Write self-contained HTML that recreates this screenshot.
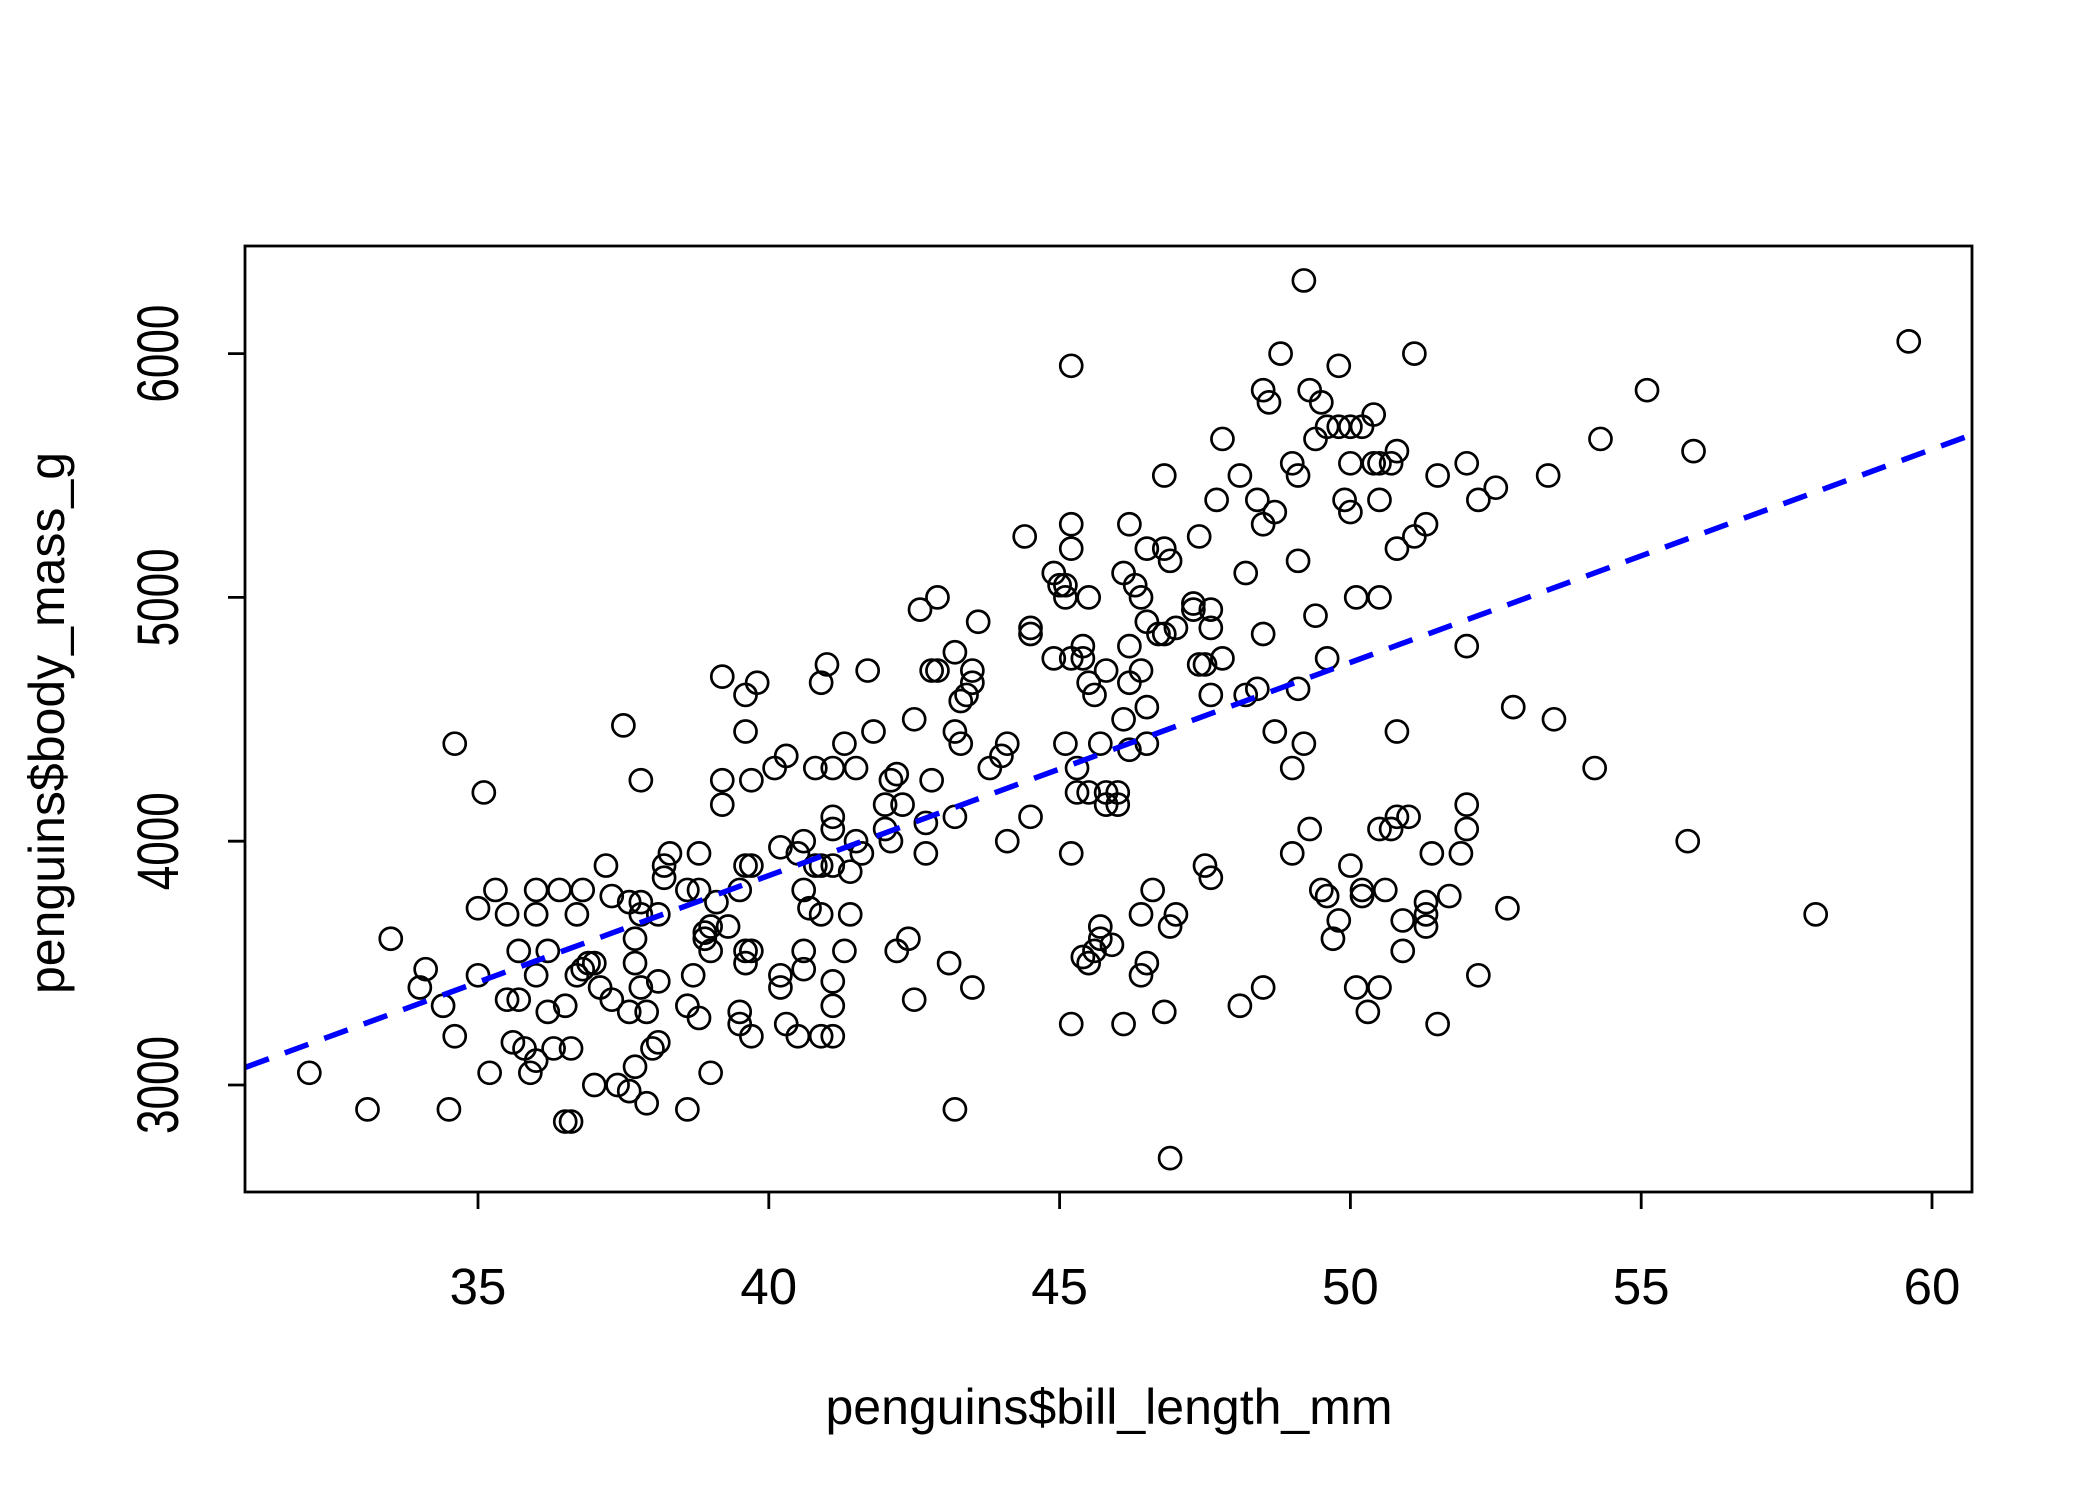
<!DOCTYPE html>
<html><head><meta charset="utf-8"><style>
html,body{margin:0;padding:0;background:#fff}
svg{display:block}
text{font-family:"Liberation Sans",sans-serif;fill:#000}
</style></head><body>
<svg id="chart" width="2100" height="1500" viewBox="0 0 2100 1500">
<rect x="0" y="0" width="2100" height="1500" fill="#fff"/>
<g id="pts"></g>
<g id="fit"></g>
<rect x="245" y="246" width="1727" height="946" fill="none" stroke="#000" stroke-width="2.8"/>
<g id="axes"></g>
<text x="1109" y="1424" font-size="50" text-anchor="middle">penguins$bill_length_mm</text>
<text transform="translate(64,723) rotate(-90)" font-size="50" text-anchor="middle">penguins$body_mass_g</text>
</svg>
<script>
const xTicks = [35, 40, 45, 50, 55, 60];
const yTicks = [3000, 4000, 5000, 6000];
const fitIntercept = 362.3;
const fitSlope = 87.42;
const billLength = [32.1,33.1,33.5,34.0,34.1,34.4,34.5,34.6,34.6,35.0,35.0,35.1,35.2,35.3,35.5,35.5,35.6,35.7,35.7,35.8,35.9,36.0,36.0,36.0,36.0,36.2,36.2,36.3,36.4,36.5,36.5,36.6,36.6,36.7,36.7,36.8,36.8,36.9,37.0,37.0,37.1,37.2,37.3,37.3,37.4,37.5,37.6,37.6,37.6,37.7,37.7,37.7,37.8,37.8,37.8,37.8,37.9,37.9,38.0,38.1,38.1,38.1,38.2,38.2,38.3,38.6,38.6,38.6,38.7,38.8,38.8,38.8,38.9,38.9,39.0,39.0,39.0,39.1,39.2,39.2,39.2,39.3,39.5,39.5,39.5,39.6,39.6,39.6,39.6,39.6,39.7,39.7,39.7,39.7,39.8,40.1,40.2,40.2,40.2,40.3,40.3,40.5,40.5,40.6,40.6,40.6,40.6,40.7,40.8,40.8,40.9,40.9,40.9,40.9,41.0,41.1,41.1,41.1,41.1,41.1,41.1,41.1,41.3,41.3,41.4,41.4,41.5,41.5,41.6,41.7,41.8,42.0,42.0,42.1,42.1,42.2,42.2,42.3,42.4,42.5,42.5,42.6,42.7,42.7,42.8,42.8,42.9,42.9,43.1,43.2,43.2,43.2,43.2,43.3,43.3,43.4,43.5,43.5,43.5,43.6,43.8,44.0,44.1,44.1,44.4,44.5,44.5,44.5,44.9,44.9,45.0,45.1,45.1,45.1,45.2,45.2,45.2,45.2,45.2,45.2,45.3,45.3,45.4,45.4,45.4,45.5,45.5,45.5,45.5,45.6,45.6,45.7,45.7,45.7,45.8,45.8,45.8,45.9,46.0,46.0,46.1,46.1,46.1,46.2,46.2,46.2,46.2,46.3,46.4,46.4,46.4,46.4,46.5,46.5,46.5,46.5,46.5,46.6,46.7,46.8,46.8,46.8,46.8,46.9,46.9,46.9,47.0,47.0,47.3,47.3,47.4,47.4,47.5,47.5,47.6,47.6,47.6,47.6,47.7,47.8,47.8,48.1,48.1,48.2,48.2,48.4,48.4,48.5,48.5,48.5,48.5,48.6,48.7,48.7,48.8,49.0,49.0,49.0,49.1,49.1,49.1,49.2,49.2,49.3,49.3,49.4,49.4,49.5,49.5,49.6,49.6,49.6,49.7,49.8,49.8,49.8,49.9,50.0,50.0,50.0,50.0,50.1,50.1,50.2,50.2,50.2,50.3,50.4,50.4,50.5,50.5,50.5,50.5,50.5,50.6,50.7,50.7,50.8,50.8,50.8,50.8,50.9,50.9,51.0,51.1,51.1,51.3,51.3,51.3,51.3,51.4,51.5,51.5,51.7,51.9,52.0,52.0,52.0,52.0,52.2,52.2,52.5,52.7,52.8,53.4,53.5,54.2,54.3,55.1,55.8,55.9,58.0,59.6];
const bodyMass = [3050,2900,3600,3400,3475,3325,2900,3200,4400,3450,3725,4200,3050,3800,3700,3350,3175,3550,3350,3150,3050,3800,3700,3450,3100,3550,3300,3150,3800,3325,2850,2850,3150,3700,3450,3800,3475,3500,3500,3000,3400,3900,3775,3350,3000,4475,2975,3300,3750,3600,3075,3500,3750,3700,4250,3400,2925,3300,3150,3175,3425,3700,3850,3900,3950,3325,3800,2900,3450,3275,3950,3800,3625,3600,3550,3650,3050,3750,4250,4675,4150,3650,3800,3300,3250,3500,3550,3900,4450,4600,3550,3200,3900,4250,4650,4300,3975,3400,3450,3250,4350,3200,3950,3475,3550,3800,4000,3725,3900,4300,4650,3200,3900,3700,4725,4050,4100,3900,3200,3325,3425,4300,3550,4400,3875,3700,4000,4300,3950,4700,4450,4050,4150,4000,4250,3550,4275,4150,3600,4500,3350,4950,3950,4075,4700,4250,4700,5000,3500,4775,4450,4100,2900,4575,4400,4600,4650,4700,3400,4900,4300,4350,4000,4400,5250,4875,4850,4100,4750,5100,5050,5050,5000,4400,4750,5300,5200,5950,3950,3250,4200,4300,4800,4750,3525,4650,3500,4200,5000,4600,3550,4400,3650,3600,4700,4150,4200,3575,4200,4150,4500,5100,3250,4650,4800,4375,5300,5050,5000,3700,4700,3450,5200,4550,4900,4400,3500,3800,4850,5200,4850,3300,5500,5150,3650,2700,4875,3700,4950,4975,4725,5250,4725,3900,4950,4875,4600,3850,5400,4750,5650,5500,3325,4600,5100,5400,4625,5850,4850,3400,5300,5800,5350,4450,6000,5550,4300,3950,5500,4625,5150,6300,4400,5850,4050,5650,4925,5800,3800,5700,4750,3775,3600,5950,5700,3675,5400,5700,5350,5550,3900,5000,3400,5700,3800,3775,3300,5750,5550,5550,5400,5000,4050,3400,3800,5550,4050,5600,5200,4450,4100,3675,3550,4100,6000,5250,5300,3750,3700,3650,3950,5500,3250,3775,3950,5550,4800,4150,4050,5400,3450,5450,3725,4550,5500,4500,4300,5650,5850,4000,5600,3700,6050];

const X0 = 478, XPU = 58.16, Y0 = 1085, YPU = 0.2438;
const xMin = 31.0, xMax = 60.7;
function sx(v){ return X0 + (v - 35) * XPU; }
function sy(v){ return Y0 - (v - 3000) * YPU; }
const NS = 'http://www.w3.org/2000/svg';
function mk(tag, attrs){ const e = document.createElementNS(NS, tag); for (const k in attrs) e.setAttribute(k, attrs[k]); return e; }

const pts = document.getElementById('pts');
for (let i = 0; i < billLength.length; i++) {
  const c = mk('ellipse', {cx: sx(billLength[i]), cy: sy(bodyMass[i]), rx: 11, ry: 11, fill: 'none', stroke: '#000', 'stroke-width': 2.7});
  
  
  pts.appendChild(c);
}

const fit = document.getElementById('fit');
const ln = mk('line', {x1: sx(xMin), y1: sy(fitIntercept + fitSlope * xMin), x2: sx(xMax), y2: sy(fitIntercept + fitSlope * xMax), stroke: '#0000ff', 'stroke-width': 5.5, 'stroke-dasharray': '25 17'});


fit.appendChild(ln);

const axes = document.getElementById('axes');
xTicks.forEach(t => {
  const x = sx(t);
  const tk = mk('line', {x1: x, y1: 1192, x2: x, y2: 1209, stroke: '#000', 'stroke-width': 2.8});
  
  
  axes.appendChild(tk);
  const lb = mk('text', {x: x, y: 1304, 'font-size': 51, 'text-anchor': 'middle'});
  lb.textContent = t;
  
  
  axes.appendChild(lb);
});
yTicks.forEach(t => {
  const y = sy(t);
  const tk = mk('line', {x1: 245, y1: y, x2: 228, y2: y, stroke: '#000', 'stroke-width': 2.8});
  
  
  axes.appendChild(tk);
  const lb = mk('text', {transform: 'translate(178,' + y + ') rotate(-90) scale(0.76,1)', 'font-size': 58, 'text-anchor': 'middle'});
  lb.textContent = t;
  
  
  axes.appendChild(lb);
});
</script>
</body></html>
